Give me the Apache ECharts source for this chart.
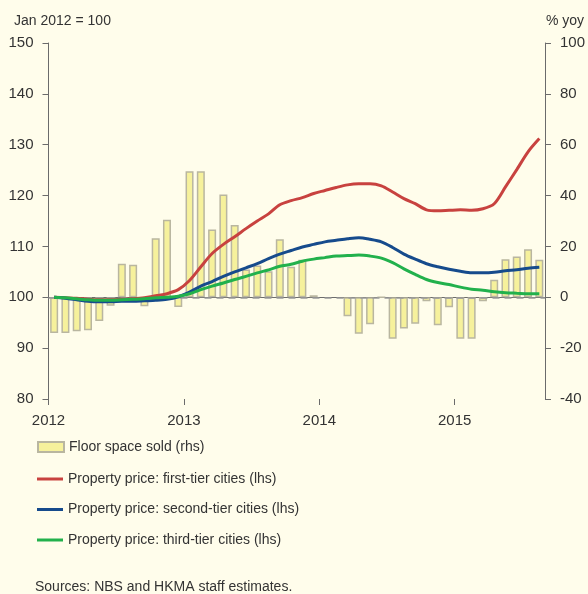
<!DOCTYPE html>
<html>
<head>
<meta charset="utf-8">
<script src="https://cdn.jsdelivr.net/npm/echarts@6/dist/echarts.min.js"></script>
<style>
html,body{margin:0;padding:0;background:#fffdeb;}
#chart{width:588px;height:594px;}
</style>
</head>
<body>
<div id="chart"></div>
<script>
// Months Jan 2012 - Aug 2015
var yearLabels = ['2012', '2013', '2014', '2015'];
var months = [];
for (var y = 0; y < 4; y++) {
  for (var m = 1; m <= 12; m++) {
    if (months.length < 44) months.push(yearLabels[y] + '-' + (m < 10 ? '0' + m : m));
  }
}
// Floor space sold, % yoy (rhs)
var floorSpace = [-14.0, -14.0, -13.4, -13.0, -9.3, -3.3, 13.2, 12.8, -3.5, 23.2, 30.5, -3.8,
  49.6, 49.6, 26.7, 40.4, 28.4, 10.9, 12.5, 10.2, 22.8, 12.0, 14.8, 0.8,
  null, null, -7.5, -14.3, -10.6, 0, -16.3, -12.3, -10.4, -1.6, -11.0, -3.9,
  -16.3, -16.3, -1.6, 6.9, 15.0, 16.0, 18.9, 14.8];
// Property price indices, Jan 2012 = 100 (lhs)
var firstTier = [100.0, 99.9, 99.8, 99.6, 99.5, 99.5, 99.6, 99.7, 99.9, 100.3, 100.7, 101.5,
  103.3, 106.0, 108.6, 110.4, 111.9, 113.5, 115.0, 116.4, 118.2, 119.0, 119.6, 120.4,
  121.0, 121.6, 122.1, 122.3, 122.3, 121.9, 120.7, 119.4, 118.4, 117.2, 117.0, 117.1,
  117.2, 117.1, 117.4, 118.4, 121.7, 125.1, 128.6, 131.2];
var secondTier = [100.0, 99.8, 99.5, 99.2, 99.1, 99.1, 99.2, 99.2, 99.3, 99.4, 99.6, 100.1,
  101.0, 102.2, 103.1, 104.1, 105.0, 105.8, 106.6, 107.6, 108.5, 109.2, 109.9, 110.4,
  110.9, 111.2, 111.5, 111.7, 111.4, 110.9, 109.8, 108.5, 107.5, 106.6, 106.0, 105.5,
  105.1, 104.8, 104.8, 104.9, 105.2, 105.4, 105.7, 105.9];
var thirdTier = [100.0, 99.9, 99.7, 99.5, 99.4, 99.4, 99.5, 99.6, 99.7, 99.9, 100.0, 100.2,
  100.7, 101.5, 102.2, 102.8, 103.5, 104.1, 104.8, 105.4, 106.1, 106.5, 107.1, 107.5,
  107.8, 108.1, 108.2, 108.3, 108.1, 107.7, 106.8, 105.6, 104.5, 103.5, 102.9, 102.5,
  102.0, 101.6, 101.4, 101.1, 100.9, 100.8, 100.7, 100.7];

var seriesNames = ['Floor space sold (rhs)', 'Property price: first-tier cities (lhs)',
  'Property price: second-tier cities (lhs)', 'Property price: third-tier cities (lhs)'];

var boundaries = [];
for (var j = 0; j <= 44; j++) boundaries.push(j % 12 === 0 ? yearLabels[j / 12] : '');

var axisColor = '#6b6b6b';
var textColor = '#333333';
var font = 'Liberation Sans, Arial, sans-serif';

var chart = echarts.init(document.getElementById('chart'));
chart.setOption({
  backgroundColor: '#fffdeb',
  animation: false,
  textStyle: { fontFamily: font, color: textColor },
  grid: { left: 48.5, right: 43, top: 43, bottom: 195, containLabel: false },
  graphic: [
    { type: 'text', left: 14, top: 14, style: { text: 'Jan 2012 = 100', font: '14px ' + font, fill: textColor } },
    { type: 'text', right: 4, top: 14, style: { text: '% yoy', font: '14px ' + font, fill: textColor } },
    { type: 'text', left: 35, top: 580, style: { text: 'Sources: NBS and HKMA staff estimates.', font: '14px ' + font, fill: textColor } }
  ],
  legend: [
    {
      orient: 'vertical', left: 32, top: 435, itemWidth: 26, itemHeight: 10, itemGap: 16,
      icon: 'rect',
      textStyle: { fontSize: 14, color: textColor, fontFamily: font },
      data: [seriesNames[0]]
    },
    {
      orient: 'vertical', left: 32, top: 467, itemWidth: 26, itemHeight: 3, itemGap: 16.5,
      icon: 'rect',
      textStyle: { fontSize: 14, color: textColor, fontFamily: font },
      data: seriesNames.slice(1)
    }
  ],
  xAxis: [
    {
      type: 'category', data: months, boundaryGap: true,
      axisLine: { show: true, lineStyle: { color: axisColor, width: 1 } },
      axisTick: { show: false }, axisLabel: { show: false }, splitLine: { show: false }
    },
    {
      type: 'category', data: boundaries, boundaryGap: false, position: 'bottom',
      axisLine: { show: false },
      axisTick: { show: true, length: 6, interval: function (i) { return i % 12 === 0; }, lineStyle: { color: axisColor } },
      axisLabel: { show: true, interval: function (i) { return i % 12 === 0; }, margin: 14, fontSize: 15, color: textColor, fontFamily: font },
      splitLine: { show: false }
    }
  ],
  yAxis: [
    {
      type: 'value', min: 80, max: 150, interval: 10, position: 'left',
      axisLine: { show: true, lineStyle: { color: axisColor, width: 1 } },
      axisTick: { show: true, length: 6, lineStyle: { color: axisColor } },
      axisLabel: { margin: 15, fontSize: 15, color: textColor, fontFamily: font },
      splitLine: { show: false }
    },
    {
      type: 'value', min: -40, max: 100, interval: 20, position: 'right',
      axisLine: { show: true, lineStyle: { color: axisColor, width: 1 } },
      axisTick: { show: true, length: 6, lineStyle: { color: axisColor } },
      axisLabel: { margin: 15, fontSize: 15, color: textColor, fontFamily: font },
      splitLine: { show: false }
    }
  ],
  series: [
    {
      name: seriesNames[0], type: 'bar', xAxisIndex: 0, yAxisIndex: 1,
      data: floorSpace, barWidth: 8, z: 2,
      itemStyle: { color: '#f6f19c', borderColor: '#b9b6a0', borderWidth: 1.5 },
      markLine: {
        silent: true, symbol: 'none', label: { show: false }, animation: false,
        lineStyle: { color: '#9a9a9a', type: [7, 5], width: 1.5 },
        data: [{ yAxis: 0 }]
      }
    },
    {
      name: seriesNames[1], type: 'line', xAxisIndex: 0, yAxisIndex: 0,
      data: firstTier, symbol: 'none', smooth: 0.3, z: 5,
      lineStyle: { color: '#c8423f', width: 3 }, itemStyle: { color: '#c8423f' }
    },
    {
      name: seriesNames[2], type: 'line', xAxisIndex: 0, yAxisIndex: 0,
      data: secondTier, symbol: 'none', smooth: 0.3, z: 5,
      lineStyle: { color: '#164b8c', width: 3 }, itemStyle: { color: '#164b8c' }
    },
    {
      name: seriesNames[3], type: 'line', xAxisIndex: 0, yAxisIndex: 0,
      data: thirdTier, symbol: 'none', smooth: 0.3, z: 6,
      lineStyle: { color: '#22b14c', width: 3 }, itemStyle: { color: '#22b14c' }
    }
  ]
});
</script>
</body>
</html>
